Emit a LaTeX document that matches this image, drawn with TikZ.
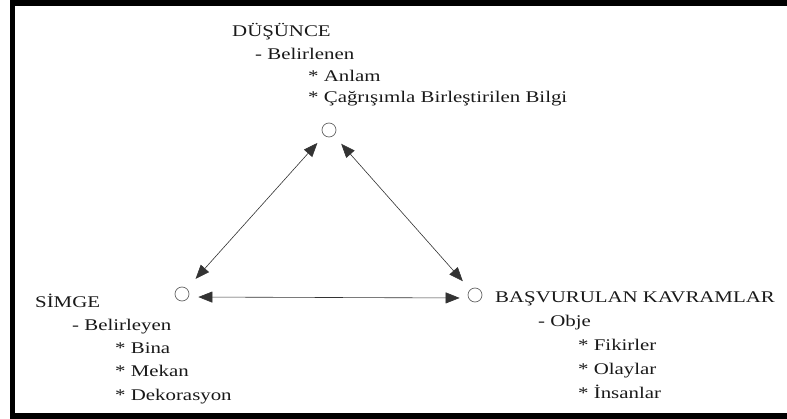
\documentclass[tikz,border=0pt]{standalone}
\usepackage{fontspec}
\setmainfont{Liberation Serif}[FakeStretch=1.28]
\usetikzlibrary{arrows.meta}
\begin{document}
\begin{tikzpicture}[x=1pt,y=-1pt]
  \tikzset{NoktaStyle/.style = {shape        = circle,
                                draw         = black!60,
                                line width   = 0.7pt,
                                inner sep    = 0pt,
                                minimum size = 14pt}}
  \tikzset{YaziStyle/.style  = {anchor       = base west,
                                inner sep    = 0pt,
                                text         = black!90,
                                font         = \fontsize{16.3}{19}\selectfont}}
  \tikzset{OkStyle/.style    = {<->,
                                >            = {Triangle[length=14pt,width=11pt]},
                                line width   = 0.6pt,
                                black!80}}

\useasboundingbox (0,0) rectangle (787,419);
\draw[line width=5.5pt] (12.5,3) rectangle (800,416);

\node[NoktaStyle] (dusunce) at (329,130) {};
\node[NoktaStyle] (simge)   at (182,294) {};
\node[NoktaStyle] (kavram)  at (475,295) {};

\draw[OkStyle, shorten <=10pt, shorten >=13pt] (dusunce) -- (simge);
\draw[OkStyle, shorten <=11pt, shorten >=11pt] (dusunce) -- (kavram);
\draw[OkStyle, shorten <=9pt, shorten >=8pt] ([yshift=-3pt]simge.east) -- ([yshift=-3pt]kavram.west);

\node[YaziStyle] (dusunceBaslik) at (232,37)  {DÜŞÜNCE};
\node[YaziStyle] (dusunceAlt)    at (255,60)  {- Belirlenen};
\node[YaziStyle] (dusunceMadde1) at (308,82)  {* Anlam};
\node[YaziStyle] (dusunceMadde2) at (308,103) {* Çağrışımla Birleştirilen Bilgi};

\node[YaziStyle] (simgeBaslik) at (35,308)  {SİMGE};
\node[YaziStyle] (simgeAlt)    at (72,331)  {- Belirleyen};
\node[YaziStyle] (simgeMadde1) at (115,354) {* Bina};
\node[YaziStyle] (simgeMadde2) at (115,377) {* Mekan};
\node[YaziStyle] (simgeMadde3) at (115,400) {* Dekorasyon};

\node[YaziStyle] (kavramBaslik) at (495,303) {BAŞVURULAN KAVRAMLAR};
\node[YaziStyle] (kavramAlt)    at (538,327) {- Obje};
\node[YaziStyle] (kavramMadde1) at (578,351) {* Fikirler};
\node[YaziStyle] (kavramMadde2) at (578,375) {* Olaylar};
\node[YaziStyle] (kavramMadde3) at (578,399) {* İnsanlar};
\end{tikzpicture}
\end{document}
